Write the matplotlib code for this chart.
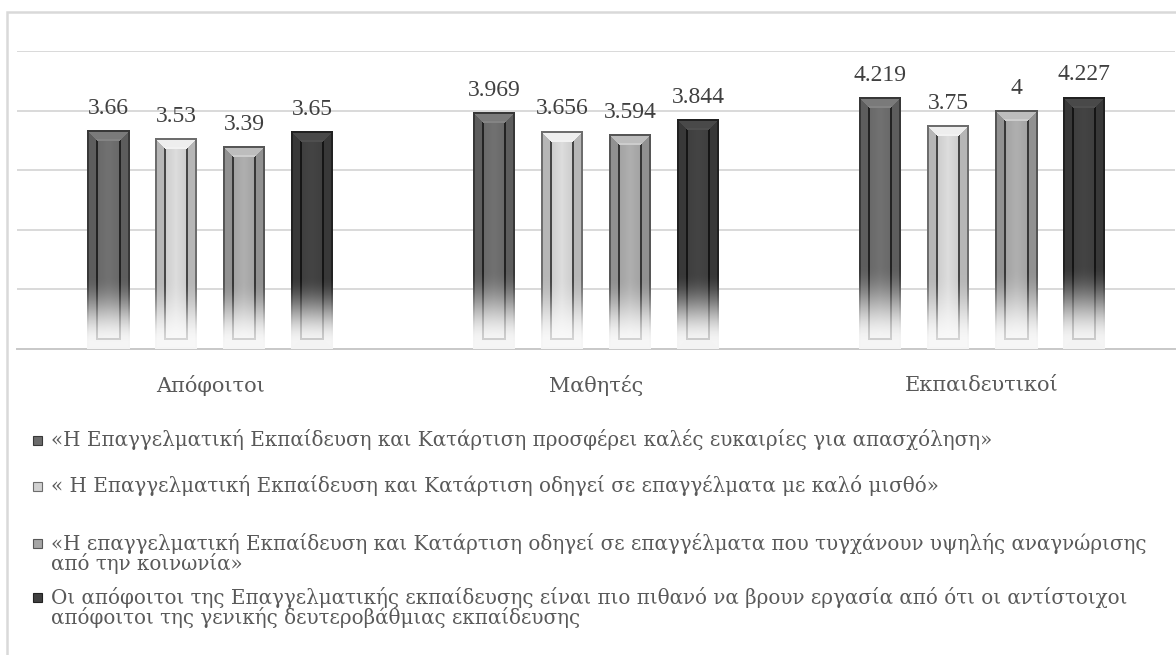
import numpy as np
import matplotlib
matplotlib.use('Agg')
import matplotlib.pyplot as plt
from matplotlib.patches import Rectangle

groups = ['Απόφοιτοι', 'Μαθητές', 'Εκπαιδευτικοί']
s1 = [3.66, 3.969, 4.219]
s2 = [3.53, 3.656, 3.75]
s3 = [3.39, 3.594, 4]
s4 = [3.65, 3.844, 4.227]
series = [s1, s2, s3, s4]
legend_labels = [
    '«Η Επαγγελματική Εκπαίδευση και Κατάρτιση προσφέρει καλές ευκαιρίες για απασχόληση»',
    '« Η Επαγγελματική Εκπαίδευση και Κατάρτιση οδηγεί σε επαγγέλματα με καλό μισθό»',
    '«Η επαγγελματική Εκπαίδευση και Κατάρτιση οδηγεί σε επαγγέλματα που τυγχάνουν υψηλής αναγνώρισης\nαπό την κοινωνία»',
    'Οι απόφοιτοι της Επαγγελματικής εκπαίδευσης είναι πιο πιθανό να βρουν εργασία από ότι οι αντίστοιχοι\nαπόφοιτοι της γενικής δευτεροβάθμιας εκπαίδευσης',
]
grays = [0.40, 0.78, 0.62, 0.24]

plt.rcParams['font.family'] = ['DejaVu Serif']
num_font = ['Liberation Serif', 'DejaVu Serif']

W, H = 1176, 655
fig = plt.figure(figsize=(W / 100, H / 100), dpi=100)
ax = fig.add_axes([17 / W, 1 - 349 / H, 1158 / W, 298 / H])


def bevel(g, h, w):
    rows = np.arange(h)[:, None] * np.ones((1, w))
    cols = np.ones((h, 1)) * np.arange(w)[None, :]
    dt = rows
    db = h - 1 - rows
    ds = np.minimum(cols, w - 1 - cols)
    d = np.minimum(np.minimum(ds, dt), db)
    # inner panel with a lighter centre strip
    c = (w - 1) / 2
    img = g * (0.95 + 0.16 * (1 - np.abs(cols - c) / c))
    band = (d >= 2) & (d < 9)
    img[band] = g * 0.92
    img[band & (dt <= ds)] = g * 1.2
    img[band & (db <= ds)] = g * 0.85
    img[d < 2] = g * 0.55
    groove = (d >= 9) & (d < 11)
    img[groove] = g * 0.35
    img[groove & (dt <= ds)] = min(g * 1.3, 0.95)
    # fade to white towards the bottom
    t = db / h
    s = np.clip((0.33 - t) / 0.3, 0, 1)
    fw = s * s * (3 - 2 * s)
    fw = np.where(groove, fw * 0.8, fw * 0.97)
    img = img * (1 - fw) + 0.98 * fw
    img = np.clip(img, 0, 1)
    return np.dstack([img, img, img])


x = np.arange(len(groups))
bw = 42 / 386
pitch = 68 / 386
ax.set_xlim(-0.5, len(groups) - 0.5)
ax.set_ylim(0, 5)

for i, vals in enumerate(series):
    g = grays[i]
    bars = ax.bar(x + (i - 1.5) * pitch, vals, bw, color=str(g), zorder=2)
    for p, v in zip(bars.patches, vals):
        x0, y0 = ax.transData.transform((p.get_x(), 0))
        x1, y1 = ax.transData.transform((p.get_x() + p.get_width(), p.get_height()))
        img = bevel(g, int(round(y1 - y0)), int(round(x1 - x0)))
        ax.imshow(img, extent=(p.get_x(), p.get_x() + p.get_width(), 0, p.get_height()),
                  aspect='auto', interpolation='nearest', zorder=3)
        ax.annotate('%g' % v, (p.get_x() + p.get_width() / 2, p.get_height()),
                    xytext=(0, 12), textcoords='offset points', ha='center',
                    va='baseline', fontsize=17, color='#404040', zorder=4,
                    family=num_font)

ax.set_xlim(-0.5, len(groups) - 0.5)
ax.set_ylim(0, 5)
ax.set_yticks([1, 2, 3, 4, 5])
ax.set_yticklabels([])
ax.yaxis.grid(True, color='#d9d9d9', linewidth=1.4, zorder=0)
ax.set_axisbelow(True)
ax.tick_params(length=0)
ax.set_xticks(x)
ax.set_xticklabels(groups, fontsize=15, color='#595959')
ax.tick_params(axis='x', pad=19)
for s in ['top', 'right', 'left']:
    ax.spines[s].set_visible(False)
ax.spines['bottom'].set_color('#c8c8c8')
ax.spines['bottom'].set_linewidth(1.4)

# outer chart border (cropped on the right and bottom)
fig.add_artist(Rectangle((7 / W, -0.05), 1.1, 1 - 12 / H + 0.05, transform=fig.transFigure,
                         fill=False, edgecolor='#d9d9d9', linewidth=1.8))

# legend
rows_y = [440, 486, 543, 597]
for i, lab in enumerate(legend_labels):
    g = grays[i]
    yc = rows_y[i]
    fig.add_artist(Rectangle((33 / W, 1 - (yc + 4.5) / H), 9 / W, 9 / H, transform=fig.transFigure,
                             facecolor=str(min(g * 1.05, 1)), edgecolor=str(g * 0.55), linewidth=0.8))
    for k, line in enumerate(lab.split('\n')):
        fig.text(51 / W, 1 - (yc + k * 21) / H, line, ha='left', va='center',
                 fontsize=14.3, color='#595959')

fig.savefig('out.png', dpi=100)
